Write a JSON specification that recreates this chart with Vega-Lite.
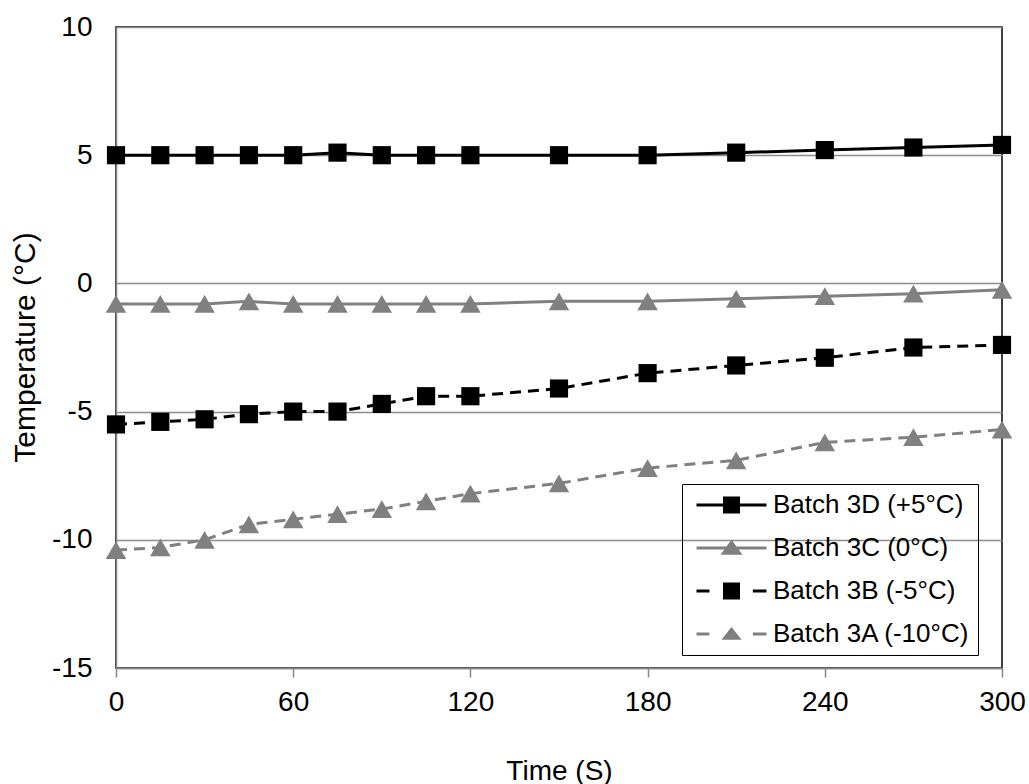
{
  "$schema": "https://vega.github.io/schema/vega-lite/v6.json",
  "width": 886,
  "height": 641,
  "autosize": "none",
  "padding": {"left": 116, "top": 27, "right": 27, "bottom": 116},
  "background": "white",
  "config": {
    "font": "Liberation Sans",
    "view": {"stroke": "black", "strokeWidth": 1.5},
    "legend": {"symbolOpacity": 1}
  },
  "data": {
    "values": [
      {"t": 0, "temp": 5.0, "series": "Batch 3D (+5°C)"},
      {"t": 15, "temp": 5.0, "series": "Batch 3D (+5°C)"},
      {"t": 30, "temp": 5.0, "series": "Batch 3D (+5°C)"},
      {"t": 45, "temp": 5.0, "series": "Batch 3D (+5°C)"},
      {"t": 60, "temp": 5.0, "series": "Batch 3D (+5°C)"},
      {"t": 75, "temp": 5.1, "series": "Batch 3D (+5°C)"},
      {"t": 90, "temp": 5.0, "series": "Batch 3D (+5°C)"},
      {"t": 105, "temp": 5.0, "series": "Batch 3D (+5°C)"},
      {"t": 120, "temp": 5.0, "series": "Batch 3D (+5°C)"},
      {"t": 150, "temp": 5.0, "series": "Batch 3D (+5°C)"},
      {"t": 180, "temp": 5.0, "series": "Batch 3D (+5°C)"},
      {"t": 210, "temp": 5.1, "series": "Batch 3D (+5°C)"},
      {"t": 240, "temp": 5.2, "series": "Batch 3D (+5°C)"},
      {"t": 270, "temp": 5.3, "series": "Batch 3D (+5°C)"},
      {"t": 300, "temp": 5.4, "series": "Batch 3D (+5°C)"},
      {"t": 0, "temp": -0.8, "series": "Batch 3C (0°C)"},
      {"t": 15, "temp": -0.8, "series": "Batch 3C (0°C)"},
      {"t": 30, "temp": -0.8, "series": "Batch 3C (0°C)"},
      {"t": 45, "temp": -0.7, "series": "Batch 3C (0°C)"},
      {"t": 60, "temp": -0.8, "series": "Batch 3C (0°C)"},
      {"t": 75, "temp": -0.8, "series": "Batch 3C (0°C)"},
      {"t": 90, "temp": -0.8, "series": "Batch 3C (0°C)"},
      {"t": 105, "temp": -0.8, "series": "Batch 3C (0°C)"},
      {"t": 120, "temp": -0.8, "series": "Batch 3C (0°C)"},
      {"t": 150, "temp": -0.7, "series": "Batch 3C (0°C)"},
      {"t": 180, "temp": -0.7, "series": "Batch 3C (0°C)"},
      {"t": 210, "temp": -0.6, "series": "Batch 3C (0°C)"},
      {"t": 240, "temp": -0.5, "series": "Batch 3C (0°C)"},
      {"t": 270, "temp": -0.4, "series": "Batch 3C (0°C)"},
      {"t": 300, "temp": -0.25, "series": "Batch 3C (0°C)"},
      {"t": 0, "temp": -5.5, "series": "Batch 3B (-5°C)"},
      {"t": 15, "temp": -5.4, "series": "Batch 3B (-5°C)"},
      {"t": 30, "temp": -5.3, "series": "Batch 3B (-5°C)"},
      {"t": 45, "temp": -5.1, "series": "Batch 3B (-5°C)"},
      {"t": 60, "temp": -5.0, "series": "Batch 3B (-5°C)"},
      {"t": 75, "temp": -5.0, "series": "Batch 3B (-5°C)"},
      {"t": 90, "temp": -4.7, "series": "Batch 3B (-5°C)"},
      {"t": 105, "temp": -4.4, "series": "Batch 3B (-5°C)"},
      {"t": 120, "temp": -4.4, "series": "Batch 3B (-5°C)"},
      {"t": 150, "temp": -4.1, "series": "Batch 3B (-5°C)"},
      {"t": 180, "temp": -3.5, "series": "Batch 3B (-5°C)"},
      {"t": 210, "temp": -3.2, "series": "Batch 3B (-5°C)"},
      {"t": 240, "temp": -2.9, "series": "Batch 3B (-5°C)"},
      {"t": 270, "temp": -2.5, "series": "Batch 3B (-5°C)"},
      {"t": 300, "temp": -2.4, "series": "Batch 3B (-5°C)"},
      {"t": 0, "temp": -10.4, "series": "Batch 3A (-10°C)"},
      {"t": 15, "temp": -10.3, "series": "Batch 3A (-10°C)"},
      {"t": 30, "temp": -10.0, "series": "Batch 3A (-10°C)"},
      {"t": 45, "temp": -9.4, "series": "Batch 3A (-10°C)"},
      {"t": 60, "temp": -9.2, "series": "Batch 3A (-10°C)"},
      {"t": 75, "temp": -9.0, "series": "Batch 3A (-10°C)"},
      {"t": 90, "temp": -8.8, "series": "Batch 3A (-10°C)"},
      {"t": 105, "temp": -8.5, "series": "Batch 3A (-10°C)"},
      {"t": 120, "temp": -8.2, "series": "Batch 3A (-10°C)"},
      {"t": 150, "temp": -7.8, "series": "Batch 3A (-10°C)"},
      {"t": 180, "temp": -7.2, "series": "Batch 3A (-10°C)"},
      {"t": 210, "temp": -6.9, "series": "Batch 3A (-10°C)"},
      {"t": 240, "temp": -6.2, "series": "Batch 3A (-10°C)"},
      {"t": 270, "temp": -6.0, "series": "Batch 3A (-10°C)"},
      {"t": 300, "temp": -5.7, "series": "Batch 3A (-10°C)"}
    ]
  },
  "encoding": {
    "x": {
      "field": "t", "type": "quantitative",
      "scale": {"domain": [0, 300], "nice": false},
      "axis": {
        "values": [0, 60, 120, 180, 240, 300],
        "title": "Time (S)",
        "titleFontSize": 28, "titleFontWeight": "normal", "titleColor": "black",
        "titleBaseline": "middle", "titleY": 103,
        "labelFontSize": 28, "labelColor": "black", "labelPadding": 11,
        "labelFlush": false,
        "grid": false,
        "domainColor": "#868686", "domainWidth": 1.5,
        "tickColor": "#868686", "tickWidth": 1.5, "tickSize": 9
      }
    },
    "y": {
      "field": "temp", "type": "quantitative",
      "scale": {"domain": [-15, 10], "nice": false, "zero": false},
      "axis": {
        "values": [-15, -10, -5, 0, 5, 10],
        "labelExpr": "datum.value + ''",
        "title": "Temperature (°C)",
        "titleFontSize": 30, "titleFontWeight": "normal", "titleColor": "black",
        "titleAngle": -90, "titleBaseline": "middle", "titleAlign": "center",
        "titleX": -91, "titleY": 320,
        "labelFontSize": 28, "labelColor": "black", "labelPadding": 24,
        "labelFlush": false,
        "ticks": false,
        "grid": true, "gridColor": "#8c8c8c", "gridWidth": 1.5,
        "domainColor": "#868686", "domainWidth": 1.5
      }
    }
  },
  "layer": [
    {
      "transform": [{"filter": {"field": "series", "oneOf": ["Batch 3D (+5°C)", "Batch 3C (0°C)"]}}],
      "mark": {"type": "line", "strokeWidth": 3},
      "encoding": {
        "color": {
          "field": "series", "type": "nominal",
          "scale": {
            "domain": ["Batch 3D (+5°C)", "Batch 3C (0°C)", "Batch 3B (-5°C)", "Batch 3A (-10°C)"],
            "range": ["#000000", "#808080", "#000000", "#808080"]
          }
        }
      }
    },
    {
      "transform": [{"filter": {"field": "series", "oneOf": ["Batch 3B (-5°C)", "Batch 3A (-10°C)"]}}],
      "mark": {"type": "line", "strokeWidth": 3, "strokeDash": [11, 7]},
      "encoding": {
        "color": {"field": "series", "type": "nominal"}
      }
    },
    {
      "transform": [{"filter": {"field": "series", "oneOf": ["Batch 3D (+5°C)", "Batch 3B (-5°C)"]}}],
      "mark": {"type": "point", "shape": "square", "filled": true, "opacity": 1, "size": 330},
      "encoding": {
        "color": {"field": "series", "type": "nominal"}
      }
    },
    {
      "transform": [{"filter": {"field": "series", "oneOf": ["Batch 3C (0°C)", "Batch 3A (-10°C)"]}}],
      "mark": {"type": "point", "shape": "triangle-up", "filled": true, "opacity": 1, "size": 420},
      "encoding": {
        "color": {"field": "series", "type": "nominal"}
      }
    },
    {
      "mark": {"type": "point", "filled": true, "opacity": 1, "size": 0},
      "encoding": {
        "color": {
          "field": "series", "type": "nominal",
          "legend": {
            "title": null,
            "orient": "none", "legendX": 566, "legendY": 457,
            "strokeColor": "black", "padding": 8,
            "labelFontSize": 26, "labelColor": "black", "labelOffset": 5, "labelLimit": 500,
            "symbolSize": 4900, "symbolOffset": 5, "rowPadding": 17, "clipHeight": 26,
            "symbolStrokeWidth": 3, "symbolOpacity": 1
          }
        },
        "shape": {
          "field": "series", "type": "nominal",
          "scale": {
            "domain": ["Batch 3D (+5°C)", "Batch 3C (0°C)", "Batch 3B (-5°C)", "Batch 3A (-10°C)"],
            "range": [
              "M-1,0H1M-0.2,-0.2H0.2V0.2H-0.2Z",
              "M-1,0H1M-0.23,0.15H0.23L0,-0.17Z",
              "M-1,0H-0.63M0.61,0H1M-0.2,-0.2H0.2V0.2H-0.2Z",
              "M-1,0H-0.63M0.61,0H1M-0.2,0.12H0.2L0,-0.13Z"
            ]
          },
          "legend": {
            "title": null,
            "orient": "none", "legendX": 566, "legendY": 457,
            "strokeColor": "black", "padding": 8,
            "labelFontSize": 26, "labelColor": "black", "labelOffset": 5, "labelLimit": 500,
            "symbolSize": 4900, "symbolOffset": 5, "rowPadding": 17, "clipHeight": 26,
            "symbolStrokeWidth": 3, "symbolOpacity": 1
          }
        }
      }
    }
  ]
}
